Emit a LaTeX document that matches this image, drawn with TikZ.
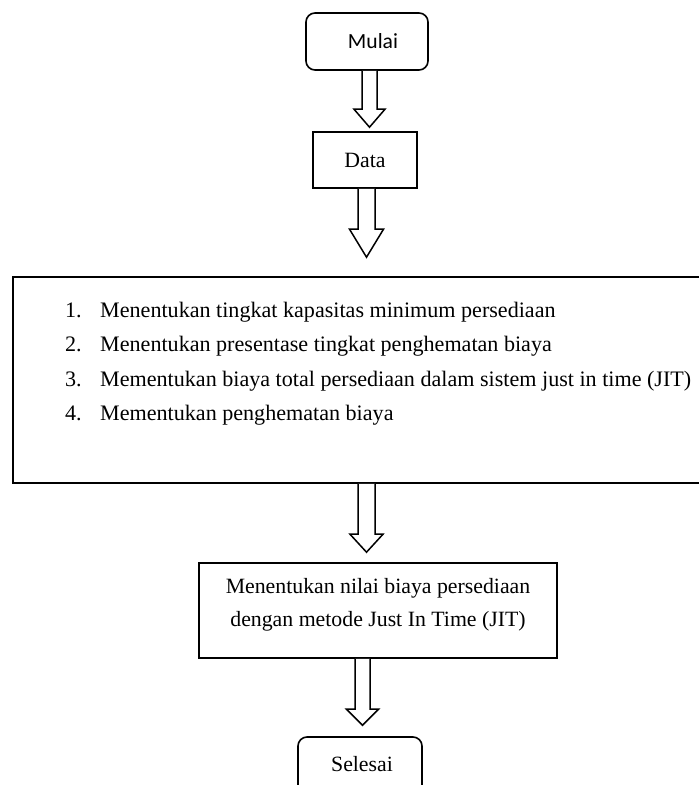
\documentclass[tikz,border=0pt]{standalone}
\usepackage{fontspec}
\setmainfont{Liberation Serif}
\newfontfamily\calfont{Carlito}
\usetikzlibrary{calc}
\tikzset{
 procbox/.style={draw=black, line width=1.6bp, rectangle, inner sep=0pt},
 termbox/.style={draw=black, line width=1.6bp, rectangle, rounded corners=9bp, inner sep=0pt},
 blockarrow/.style={draw=black, line width=1.5bp, fill=white, line join=miter},
 txt/.style={font=\fontsize{21.8bp}{33bp}\selectfont, inner sep=0pt},
 listtxt/.style={font=\fontsize{22.1bp}{33bp}\selectfont, inner sep=0pt, anchor=base west},
}
% #1 from node, #2 to node, #3 centre x, #4 shaft half width, #5 head half width, #6 head length, #7 gap before target
\newcommand{\blkarrow}[7]{%
 \draw[blockarrow] let \p1=(#1.south), \p2=(#2.north) in
  (#3bp-#4bp,\y1) -- (#3bp-#4bp,\y2+#7bp+#6bp) -- (#3bp-#5bp,\y2+#7bp+#6bp)
  -- (#3bp,\y2+#7bp) -- (#3bp+#5bp,\y2+#7bp+#6bp) -- (#3bp+#4bp,\y2+#7bp+#6bp)
  -- (#3bp+#4bp,\y1);}
\begin{document}
\begin{tikzpicture}[x=1bp,y=-1bp]
\clip (0,0) rectangle (699,785);
\fill[white] (0,0) rectangle (699,785);

\node[termbox, minimum width=122bp, minimum height=57bp,
      font=\calfont\fontsize{21.6bp}{26bp}\selectfont] (mulai) at (367,41.5) {\hspace*{12bp}\raisebox{-3bp}{Mulai}};
\node[procbox, txt, minimum width=104bp, minimum height=56bp] (data) at (365,160) {Data};
\node[procbox, minimum width=720bp, minimum height=206bp] (steps) at (373,380) {};
\node[listtxt] (s1) at (65,317) {\makebox[35bp][l]{1.}Menentukan tingkat kapasitas minimum persediaan};
\node[listtxt] (s2) at (65,351.5) {\makebox[35bp][l]{2.}Menentukan presentase tingkat penghematan biaya};
\node[listtxt] (s3) at (65,386) {\makebox[35bp][l]{3.}Mementukan biaya total persediaan dalam sistem just in time (JIT)};
\node[listtxt] (s4) at (65,420.5) {\makebox[35bp][l]{4.}Mementukan penghematan biaya};

\node[procbox, minimum width=358bp, minimum height=95bp] (jit) at (378,610.5) {};
\node[txt, align=center] (jittext) at ([yshift=6bp]jit.center) {Menentukan nilai biaya persediaan\\dengan metode Just In Time (JIT)};

\node[termbox, txt, minimum width=124bp, minimum height=57bp] (selesai) at (360,765.5) {\hspace*{4bp}\raisebox{3bp}{Selesai}};

\blkarrow{mulai}{data}{369.5}{7.5}{15.5}{18}{4}
\blkarrow{data}{steps}{366.5}{8.5}{17}{28}{19}
\blkarrow{steps}{jit}{366.5}{8.5}{16.5}{18}{10}
\blkarrow{jit}{selesai}{362.5}{7.5}{16}{16}{11}
\end{tikzpicture}
\end{document}
